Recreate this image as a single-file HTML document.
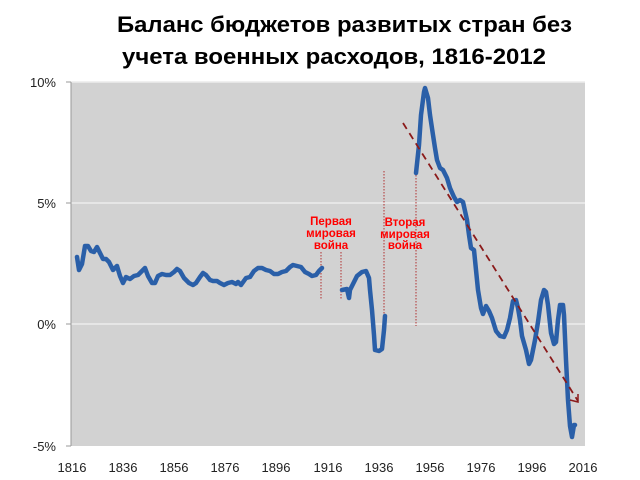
<!DOCTYPE html>
<html><head><meta charset="utf-8"><style>body{margin:0;background:#fff}svg{display:block}</style></head>
<body>
<svg width="640" height="480" xmlns="http://www.w3.org/2000/svg" font-family="Liberation Sans, sans-serif">
<text x="117" y="32" font-size="22" font-weight="bold" textLength="455" lengthAdjust="spacingAndGlyphs">Баланс бюджетов развитых стран без</text>
<text x="122" y="64" font-size="22" font-weight="bold" textLength="424" lengthAdjust="spacingAndGlyphs">учета военных расходов, 1816-2012</text>
<rect x="71" y="82" width="514" height="364" fill="#d2d2d2"/>
<g stroke="#ececec" stroke-width="1.5"><line x1="71" y1="203" x2="585" y2="203"/><line x1="71" y1="324" x2="585" y2="324"/><line x1="71" y1="82" x2="585" y2="82"/></g>
<line x1="71" y1="82" x2="71" y2="446" stroke="#999"/>
<g stroke="#999"><line x1="66" y1="82" x2="71" y2="82"/><line x1="66" y1="203" x2="71" y2="203"/><line x1="66" y1="324" x2="71" y2="324"/><line x1="66" y1="446" x2="71" y2="446"/></g>
<g font-size="13" fill="#222" text-anchor="end"><text x="56" y="87">10%</text><text x="56" y="208">5%</text><text x="56" y="329">0%</text><text x="56" y="451">-5%</text></g>
<g font-size="13" fill="#222" text-anchor="middle"><text x="72" y="472">1816</text><text x="123" y="472">1836</text><text x="174" y="472">1856</text><text x="225" y="472">1876</text><text x="276" y="472">1896</text><text x="328" y="472">1916</text><text x="379" y="472">1936</text><text x="430" y="472">1956</text><text x="481" y="472">1976</text><text x="532" y="472">1996</text><text x="583" y="472">2016</text></g>
<g stroke="#b03030" stroke-width="1" stroke-dasharray="1.5,1.5"><line x1="321" y1="252" x2="321" y2="300"/><line x1="341" y1="252" x2="341" y2="300"/><line x1="384" y1="171" x2="384" y2="316"/><line x1="416" y1="175" x2="416" y2="326"/></g>
<g font-size="11.5" font-weight="bold" fill="#f00" text-anchor="middle"><text x="331" y="225">Первая</text><text x="331" y="237">мировая</text><text x="331" y="249">война</text><text x="405" y="226">Вторая</text><text x="405" y="238">мировая</text><text x="405" y="249">война</text></g>
<g fill="none" stroke="#2a5fa8" stroke-width="4.5" stroke-linejoin="round" stroke-linecap="round">
<polyline points="77,257 79,270 82,264 85,246 88,246 91,251 94,252 97,247 100,253 103,259 106,259 109,262 113,270 117,266 120,276 123,283 126,277 130,279 134,276 138,275 142,271 145,268 148,276 152,283 155,283 158,276 162,274 166,275 170,275 174,272 177,269 180,271 184,278 189,283 193,285 196,283 200,277 203,273 206,275 210,280 213,281 217,281 220,283 224,285 228,283 232,282 236,284 238,282 241,285 246,278 250,277 254,271 258,268 262,268 266,270 270,271 274,274 278,274 282,272 286,271 290,267 293,265 297,266 301,267 305,272 309,274 312,276 316,275 319,271 322,268"/>
<polyline points="342,290 347,289 349,298 350,290 354,282 357,276 362,272 366,271 369,278 370,290 372,310 374,335 375,350 379,351 382,349 384,330 385,316"/>
<polyline points="416,173 419,145 421,115 424,92 425,88 428,98 430,115 433,135 435,148 437,160 440,168 443,170 447,178 450,188 454,197 457,202 460,200 463,202 467,220 469,235 471,248 474,250 476,270 478,290 481,308 483,314 486,306 489,311 492,318 496,331 500,336 504,337 507,330 510,318 513,301 516,300 518,308 520,320 522,336 526,350 529,364 531,360 535,340 538,322 541,300 544,290 546,292 548,305 551,333 554,344 556,342 558,320 560,305 563,305 564,315 566,360 568,400 570,426 572,437 574,425 575,425"/>
</g>
<line x1="403" y1="123" x2="578" y2="401" stroke="#8b1a1a" stroke-width="1.8" stroke-dasharray="7,5"/>
<polyline points="570,400 578,402 578,394" fill="none" stroke="#8b1a1a" stroke-width="1.5"/>
</svg>
</body></html>
